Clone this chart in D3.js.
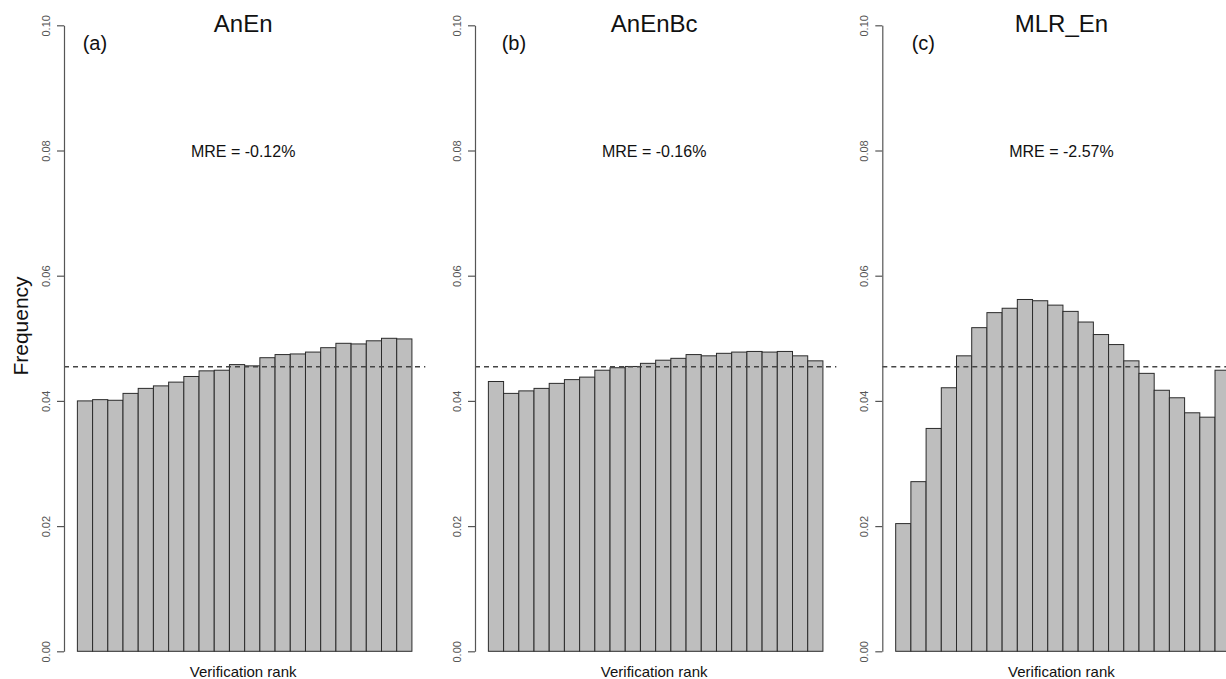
<!DOCTYPE html>
<html>
<head>
<meta charset="utf-8">
<script src="https://cdn.jsdelivr.net/npm/d3@7"></script>
<style>
  html, body { margin: 0; padding: 0; background: #fff; overflow: hidden; }
  svg { display: block; font-family: "Liberation Sans", Arial, sans-serif; }
</style>
</head>
<body>
<svg id="chart" width="1226" height="679"></svg>
<script>
// ---- data ----
const ranks = [1,2,3,4,5,6,7,8,9,10,11,12,13,14,15,16,17,18,19,20,21,22];
const panelTitles = ["AnEn", "AnEnBc", "MLR_En"];
const panelLetters = ["(a)", "(b)", "(c)"];
const mreLabels = ["MRE = -0.12%", "MRE = -0.16%", "MRE = -2.57%"];
const anenValues = [0.0400, 0.0402, 0.0401, 0.0412, 0.0420, 0.0424, 0.0430, 0.0439, 0.0448, 0.0449, 0.0458,
                    0.0456, 0.0469, 0.0474, 0.0475, 0.0478, 0.0485, 0.0492, 0.0491, 0.0496, 0.0500, 0.0499];
const anenbcValues = [0.0431, 0.0412, 0.0416, 0.0420, 0.0428, 0.0434, 0.0438, 0.0449, 0.0453, 0.0455, 0.0460,
                      0.0465, 0.0468, 0.0474, 0.0472, 0.0476, 0.0478, 0.0479, 0.0478, 0.0479, 0.0472, 0.0464];
const mlrValues = [0.0204, 0.0271, 0.0356, 0.0421, 0.0472, 0.0517, 0.0541, 0.0548, 0.0562, 0.0560, 0.0553,
                   0.0543, 0.0526, 0.0506, 0.0490, 0.0464, 0.0444, 0.0417, 0.0405, 0.0381, 0.0374, 0.0449];
const yTicks = [0.00, 0.02, 0.04, 0.06, 0.08, 0.10];
const yTickLabels = ["0.00", "0.02", "0.04", "0.06", "0.08", "0.10"];
const expectedFreq = 1 / 22;
const xLabel = "Verification rank";
const yLabel = "Frequency";

// ---- layout ----
const svg = d3.select("#chart");
svg.append("rect").attr("width", 1226).attr("height", 679).attr("fill", "#fff");

const panelAxisX = [64, 475, 882.3];
const letterOffset = [18.7, 26.7, 29.4];
const panelWidth = 361.3;
const yTop = 25.3, yBottom = 651.3;
const seriesList = [anenValues, anenbcValues, mlrValues];

const y = d3.scaleLinear().domain([0, 0.10]).range([yBottom, yTop]);

seriesList.forEach((vals, p) => {
  const x0 = panelAxisX[p];
  const pad = ranks.length * 0.04;
  const x = d3.scaleLinear()
    .domain([0 - pad, ranks.length + pad])
    .range([x0, x0 + panelWidth]);
  const g = svg.append("g");

  // bars
  g.selectAll("rect.bar")
    .data(vals)
    .join("rect")
    .attr("class", "bar")
    .attr("x", (d, i) => x(i))
    .attr("width", (d, i) => x(i + 1) - x(i))
    .attr("y", d => y(d))
    .attr("height", d => y(0) - y(d))
    .attr("fill", "#bebebe")
    .attr("stroke", "#2b2b2b")
    .attr("stroke-width", 1);

  // dashed reference line
  g.append("line")
    .attr("x1", x.range()[0]).attr("x2", x.range()[1])
    .attr("y1", y(expectedFreq)).attr("y2", y(expectedFreq))
    .attr("stroke", "#444")
    .attr("stroke-width", 1.3)
    .attr("stroke-dasharray", "5,4");

  // y axis
  const axis = d3.axisLeft(y)
    .tickValues(yTicks)
    .tickFormat((d, i) => yTickLabels[i])
    .tickSize(7)
    .tickSizeOuter(0);
  const ag = g.append("g").attr("transform", `translate(${x0},0)`).call(axis);
  ag.select(".domain").attr("stroke", "#555").attr("stroke-width", 1.2);
  ag.selectAll(".tick line").attr("stroke", "#555").attr("stroke-width", 1.2);
  ag.selectAll(".tick text")
    .attr("x", 0).attr("dy", 0)
    .attr("transform", "translate(-14,0) rotate(-90)")
    .attr("text-anchor", "middle")
    .attr("fill", "#555")
    .style("font-size", "11px")
    .style("font-family", "\"Liberation Sans\", Arial, sans-serif");

  const cx = x0 + panelWidth / 2 - 1.5;
  // title
  g.append("text")
    .attr("x", cx).attr("y", 31.7)
    .attr("text-anchor", "middle")
    .style("font-size", "24px")
    .attr("fill", "#111")
    .text(panelTitles[p]);
  // panel letter
  g.append("text")
    .attr("x", x0 + letterOffset[p]).attr("y", 50)
    .style("font-size", "20px")
    .attr("fill", "#111")
    .text(panelLetters[p]);
  // MRE
  g.append("text")
    .attr("x", cx).attr("y", 157)
    .attr("text-anchor", "middle")
    .style("font-size", "16px")
    .attr("fill", "#111")
    .text(mreLabels[p]);
  // x label
  g.append("text")
    .attr("x", cx).attr("y", 676.5)
    .attr("text-anchor", "middle")
    .style("font-size", "15px")
    .attr("fill", "#111")
    .text(xLabel);
});

// y label
svg.append("text")
  .attr("transform", "translate(28,326) rotate(-90)")
  .attr("text-anchor", "middle")
  .style("font-size", "21px")
  .attr("fill", "#111")
  .text(yLabel);
</script>
</body>
</html>
